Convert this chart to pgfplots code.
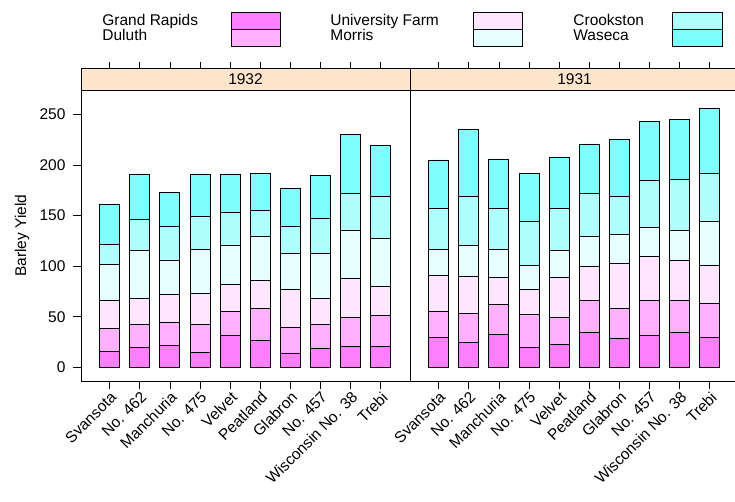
\documentclass[border=0pt]{standalone}
\usepackage{pgfplots}
\pgfplotsset{compat=1.18}
\usepackage{fontspec}
\setmainfont{Liberation Sans}
\definecolor{cGR}{HTML}{FF80FF}
\definecolor{cDU}{HTML}{FFB0FF}
\definecolor{cUF}{HTML}{FFE6FF}
\definecolor{cMO}{HTML}{E6FFFF}
\definecolor{cCR}{HTML}{B0FFFF}
\definecolor{cWA}{HTML}{80FFFF}
\definecolor{strip}{HTML}{FFE5CC}
\newcommand\fs{\fontsize{15.5}{16}\selectfont}
\pgfplotsset{
 panel/.style={
  scale only axis, width=329pt, height=291pt,
  xmin=0.05, xmax=10.97, ymin=-13.5, ymax=274,
  ybar stacked, bar width=20pt,
  axis line style={line width=0.8pt},
  /pgf/number format/assume math mode=true,
  xtick={1,...,10},
  xticklabels={Svansota,No. 462,Manchuria,No. 475,Velvet,Peatland,Glabron,No. 457,Wisconsin No. 38,Trebi},
  xticklabel style={rotate=45,anchor=north east,inner sep=1pt,font=\fs},
  xtick pos=bottom, tick align=outside, major tick length=8pt,
  tick style={black,line width=0.6pt},
  every axis plot/.append style={draw=black,line width=0.8pt},
  clip=false,
 },
}
\newcommand\topticks[1]{%
  \pgfplotsinvokeforeach{1,...,10}{\coordinate (#1t##1) at (axis cs:##1,274);}
}
\newcommand\strip[2]{%
  \fill[strip] (#1.north west) rectangle ([yshift=22pt]#1.north east);
  \draw[line width=0.8pt] (#1.north west) rectangle ([yshift=22pt]#1.north east);
  \node[font=\fs] at ([yshift=11pt]#1.north) {#2};
  \foreach \i in {1,...,10}{\draw[line width=0.6pt] ([yshift=22pt]#1t\i) -- ([yshift=28pt]#1t\i);}
}
\begin{document}
\begin{tikzpicture}
\useasboundingbox (-81pt,-121pt) rectangle (654pt,381pt);
\begin{axis}[panel, name=L, at={(0pt,0pt)}, anchor=south west,
  ytick={0,50,...,250}, ytick pos=left,
  yticklabel style={font=\fs, xshift=-4pt},
  ylabel={Barley Yield}, ylabel style={font=\fs, at={(axis description cs:-0.179,0.5)}, anchor=center}]
\addplot[fill=cGR] coordinates {(1,16.1)(2,19.4)(3,21.7)(4,14.8)(5,32.0)(6,26.4)(7,14.2)(8,19.1)(9,20.4)(10,20.4)};
\addplot[fill=cDU] coordinates {(1,22.4)(2,22.8)(3,23.1)(4,27.7)(5,23.0)(6,31.6)(7,25.7)(8,23.1)(9,29.3)(10,30.7)};
\addplot[fill=cUF] coordinates {(1,27.7)(2,25.7)(3,27.0)(4,30.3)(5,26.7)(6,28.3)(7,37.2)(8,26.3)(9,38.2)(10,29.3)};
\addplot[fill=cMO] coordinates {(1,35.6)(2,47.4)(3,34.3)(4,44.1)(5,39.2)(6,43.5)(7,35.2)(8,43.8)(9,47.8)(10,46.7)};
\addplot[fill=cCR] coordinates {(1,20.1)(2,30.6)(3,33.2)(4,32.6)(5,31.9)(6,25.3)(7,26.7)(8,34.6)(9,35.9)(10,42.2)};
\addplot[fill=cWA] coordinates {(1,39.2)(2,44.8)(3,33.6)(4,41.2)(5,37.6)(6,36.3)(7,37.5)(8,42.5)(9,59.0)(10,49.7)};
\topticks{L}
\end{axis}
\begin{axis}[panel, name=R, at={(329pt,0pt)}, anchor=south west, ytick=\empty]
\addplot[fill=cGR] coordinates {(1,29.3)(2,24.7)(3,32.9)(4,19.4)(5,22.7)(6,34.3)(7,29.0)(8,32.0)(9,34.3)(10,29.6)};
\addplot[fill=cDU] coordinates {(1,26.4)(2,28.3)(3,29.0)(4,33.0)(5,26.4)(6,32.2)(7,29.6)(8,33.9)(9,31.6)(10,34.0)};
\addplot[fill=cUF] coordinates {(1,34.9)(2,36.6)(3,27.0)(4,25.0)(5,40.2)(6,33.0)(7,43.8)(8,43.5)(9,39.5)(10,36.9)};
\addplot[fill=cMO] coordinates {(1,25.7)(2,31.0)(3,27.7)(4,23.1)(5,26.3)(6,30.3)(7,28.7)(8,28.9)(9,30.0)(10,44.1)};
\addplot[fill=cCR] coordinates {(1,41.1)(2,48.7)(3,40.5)(4,44.1)(5,41.8)(6,41.8)(7,38.2)(8,46.1)(9,50.4)(10,47.1)};
\addplot[fill=cWA] coordinates {(1,47.5)(2,65.9)(3,48.8)(4,47.1)(5,50.4)(6,49.1)(7,55.7)(8,58.4)(9,58.9)(10,64.2)};
\topticks{R}
\end{axis}
\strip{L}{1932}
\strip{R}{1931}
% legend
\begin{scope}[font=\fs, line width=0.8pt]
\draw[fill=cGR] (150pt,352pt) rectangle (199pt,369pt);
\draw[fill=cDU] (150pt,335pt) rectangle (199pt,352pt);
\node[anchor=base west,inner sep=0] at (21pt,355pt) {Grand Rapids};
\node[anchor=base west,inner sep=0] at (21pt,340pt) {Duluth};
\draw[fill=cUF] (392pt,352pt) rectangle (441pt,369pt);
\draw[fill=cMO] (392pt,335pt) rectangle (441pt,352pt);
\node[anchor=base west,inner sep=0] at (249pt,355pt) {University Farm};
\node[anchor=base west,inner sep=0] at (249pt,340pt) {Morris};
\draw[fill=cCR] (591pt,352pt) rectangle (641pt,369pt);
\draw[fill=cWA] (591pt,335pt) rectangle (641pt,352pt);
\node[anchor=base west,inner sep=0] at (492pt,355pt) {Crookston};
\node[anchor=base west,inner sep=0] at (492pt,340pt) {Waseca};
\end{scope}
\end{tikzpicture}
\end{document}
